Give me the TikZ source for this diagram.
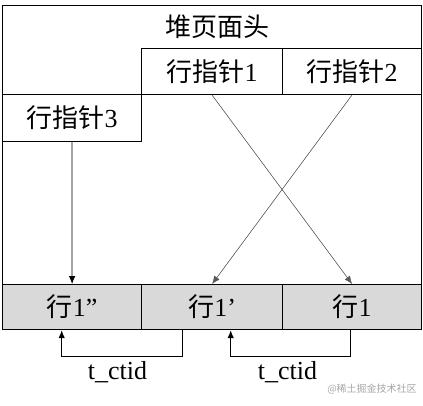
\documentclass[tikz,border=0pt]{standalone}
\usepackage{fontspec}
\setmainfont{Liberation Serif}
\newfontfamily\cjk{Noto Sans CJK SC}
\usetikzlibrary{arrows.meta}
\definecolor{cellgray}{HTML}{D9D9D9}
\begin{document}
\begin{tikzpicture}[x=1pt,y=-1pt,
  txt/.style={font=\fontsize{26}{28}\selectfont, inner sep=0pt},
  box/.style={draw, line width=1pt, rectangle, inner sep=0pt, anchor=north west, txt},
  cell/.style={box, fill=cellgray, line width=1.2pt},
  ptr/.style={-{Latex[length=8pt,width=6.5pt]}, line width=0.75pt},
  diag/.style={-{Latex[length=8pt,width=6.5pt]}, line width=0.5pt, draw=black!65, fill=black},
  link/.style={-{Latex[length=8pt,width=6.5pt]}, line width=1pt}
]
\useasboundingbox (0,0) rectangle (423,405);
\node[box, minimum width=419pt, minimum height=279pt] (frame) at (2,5) {};
\node[txt] (title) at (217,27) {\cjk 堆页面头};
\node[box, minimum width=141pt, minimum height=46pt] (p1) at (141,48) {{\cjk 行指针}1};
\node[box, minimum width=139pt, minimum height=46pt] (p2) at (282,48) {{\cjk 行指针}2};
\node[box, minimum width=139pt, minimum height=47pt] (p3) at (2,94) {{\cjk 行指针}3};
\node[cell, minimum width=139pt, minimum height=45pt] (r3) at (2,284) {{\cjk 行}1”};
\node[cell, minimum width=141pt, minimum height=45pt] (r2) at (141,284) {{\cjk 行}1’};
\node[cell, minimum width=139pt, minimum height=45pt] (r1) at (282,284) {{\cjk 行}1};
\draw[ptr] (p3.south) -- (r3.north);
\draw[diag] (p1.south) -- (r1.north);
\draw[diag] (p2.south) -- (r2.north);
\draw[link] ([xshift=41pt]r2.south west) -- ++(0,26) -| ([xshift=59.7pt]r3.south west);
\draw[link] ([xshift=68.7pt]r1.south west) -- ++(0,26) -| ([xshift=89.7pt]r2.south west);
\node[txt] (l1) at (117.5,372) {t\_ctid};
\node[txt] (l2) at (287.5,372) {t\_ctid};
\node[font=\cjk\fontsize{10}{12}\selectfont, text=black!35, inner sep=0pt] (wm) at (372,389) {@稀土掘金技术社区};
\end{tikzpicture}
\end{document}
